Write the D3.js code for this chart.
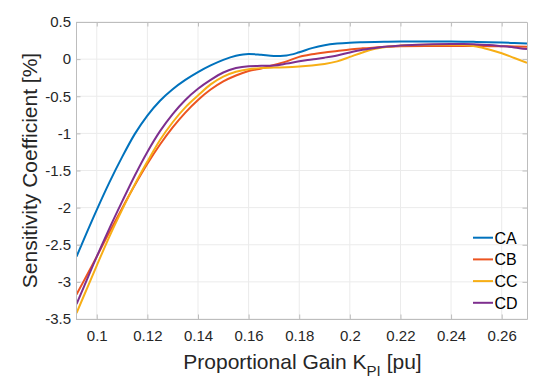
<!DOCTYPE html>
<html><head><meta charset="utf-8">
<script src="https://cdn.jsdelivr.net/npm/d3@7"></script>
<style>
html,body{margin:0;padding:0;background:#fff;}
svg{display:block;font-family:"Liberation Sans",Arial,Helvetica,sans-serif;}
</style></head>
<body>
<svg id="chart" width="550" height="391"></svg>
<script>
const kp = [0.092,0.095,0.1,0.105,0.11,0.115,0.12,0.125,0.13,0.135,0.14,0.145,0.15,0.155,0.16,0.165,0.17,0.175,0.18,0.185,0.19,0.195,0.2,0.205,0.21,0.215,0.22,0.23,0.24,0.245,0.25,0.255,0.26,0.265,0.27];
const seriesNames = ["CA","CB","CC","CD"];
const CA = [-2.66,-2.42,-2.03,-1.66,-1.32,-1.01,-0.76,-0.56,-0.405,-0.28,-0.175,-0.085,-0.01,0.045,0.07,0.058,0.042,0.050,0.092,0.148,0.188,0.21,0.222,0.228,0.232,0.234,0.236,0.238,0.237,0.235,0.232,0.228,0.223,0.217,0.21];
const CB = [-3.17,-2.98,-2.66,-2.33,-2.01,-1.70,-1.41,-1.15,-0.92,-0.72,-0.55,-0.41,-0.30,-0.22,-0.16,-0.125,-0.08,-0.03,0.03,0.065,0.09,0.11,0.13,0.145,0.158,0.167,0.173,0.178,0.178,0.177,0.176,0.175,0.173,0.171,0.168];
const CC = [-3.42,-3.18,-2.78,-2.39,-2.03,-1.69,-1.38,-1.09,-0.85,-0.65,-0.49,-0.34,-0.235,-0.17,-0.135,-0.12,-0.113,-0.11,-0.10,-0.085,-0.065,-0.03,0.03,0.09,0.14,0.168,0.182,0.193,0.195,0.19,0.17,0.13,0.08,0.015,-0.05];
const CD = [-3.30,-3.06,-2.66,-2.28,-1.92,-1.57,-1.25,-0.97,-0.74,-0.55,-0.40,-0.28,-0.18,-0.12,-0.095,-0.09,-0.085,-0.06,-0.03,-0.005,0.02,0.05,0.09,0.125,0.15,0.17,0.182,0.197,0.203,0.203,0.198,0.19,0.175,0.158,0.135];
const seriesValues = [CA, CB, CC, CD];
const colors = ["#0072BD","#EC5420","#F7AE15","#7E2F8E"];
const xTicks = [0.1,0.12,0.14,0.16,0.18,0.2,0.22,0.24,0.26];
const yTicks = [-3.5,-3,-2.5,-2,-1.5,-1,-0.5,0,0.5];
const xDomain = [0.0918, 0.27];
const yDomain = [-3.5, 0.5];

const svg = d3.select("#chart");
const L = 76, R = 527, T = 22, B = 319;
const x = d3.scaleLinear().domain(xDomain).range([L, R]);
const y = d3.scaleLinear().domain(yDomain).range([B, T]);

const fmt = v => String(+v.toFixed(2));

// grid
const g = svg.append("g");
g.selectAll(".gx").data(xTicks).join("line")
  .attr("x1", d => x(d)).attr("x2", d => x(d)).attr("y1", T).attr("y2", B)
  .attr("stroke", "#ebebeb").attr("stroke-width", 1);
g.selectAll(".gy").data(yTicks).join("line")
  .attr("y1", d => y(d)).attr("y2", d => y(d)).attr("x1", L).attr("x2", R)
  .attr("stroke", "#ebebeb").attr("stroke-width", 1);

// lines
const line = d3.line().x((d, i) => x(kp[i])).y(d => y(d)).curve(d3.curveMonotoneX);
svg.append("clipPath").attr("id", "clp").append("rect")
  .attr("x", L).attr("y", T).attr("width", R - L).attr("height", B - T);
svg.append("g").attr("clip-path", "url(#clp)")
  .selectAll("path").data(seriesValues).join("path")
  .attr("d", d => line(d)).attr("fill", "none")
  .attr("stroke", (d, i) => colors[i]).attr("stroke-width", 2);

// axes
const axisColor = "#bdbdbd";
const tk = 4.5;
const xb = d3.axisBottom(x).tickValues(xTicks).tickFormat(fmt).tickSizeInner(-tk).tickSizeOuter(0).tickPadding(11);
const yl = d3.axisLeft(y).tickValues(yTicks).tickFormat(fmt).tickSizeInner(-tk).tickSizeOuter(0).tickPadding(5);
const xt = d3.axisTop(x).tickValues(xTicks).tickFormat("").tickSizeInner(-tk).tickSizeOuter(0);
const yr = d3.axisRight(y).tickValues(yTicks).tickFormat("").tickSizeInner(-tk).tickSizeOuter(0);

function style(sel) {
  sel.select(".domain").attr("stroke", axisColor).attr("stroke-width", 1);
  sel.selectAll(".tick line").attr("stroke", axisColor);
  sel.selectAll(".tick text").attr("fill", "#262626").style("font-size", "15px")
     .style("font-family", "'Liberation Sans', Arial, sans-serif");
}
svg.append("g").attr("transform", `translate(0,${B})`).call(xb).call(style);
svg.append("g").attr("transform", `translate(${L},0)`).call(yl).call(style);
svg.append("g").attr("transform", `translate(0,${T})`).call(xt).call(style);
svg.append("g").attr("transform", `translate(${R},0)`).call(yr).call(style);

// axis labels
const xl = svg.append("text").attr("x", (L + R) / 2 + 1).attr("y", 369)
  .attr("text-anchor", "middle").attr("fill", "#262626").style("font-size", "21px");
xl.append("tspan").text("Proportional Gain K");
xl.append("tspan").text("PI").style("font-size", "15px").attr("dy", 7);
xl.append("tspan").text(" [pu]").attr("dy", -7);

svg.append("text").attr("transform", `translate(37,${(T + B) / 2}) rotate(-90)`)
  .attr("text-anchor", "middle").attr("fill", "#262626").style("font-size", "21px")
  .text("Sensitivity Coefficient [%]");

// legend
const lg = svg.append("g");
const ly0 = 237.7, ldy = 21.7;
seriesNames.forEach((n, i) => {
  const yy = ly0 + i * ldy;
  lg.append("line").attr("x1", 473).attr("x2", 493).attr("y1", yy).attr("y2", yy)
    .attr("stroke", colors[i]).attr("stroke-width", 2);
  lg.append("text").attr("x", 494.5).attr("y", yy + 5.8).attr("fill", "#000")
    .style("font-size", "16px").text(n);
});
</script>
</body></html>
